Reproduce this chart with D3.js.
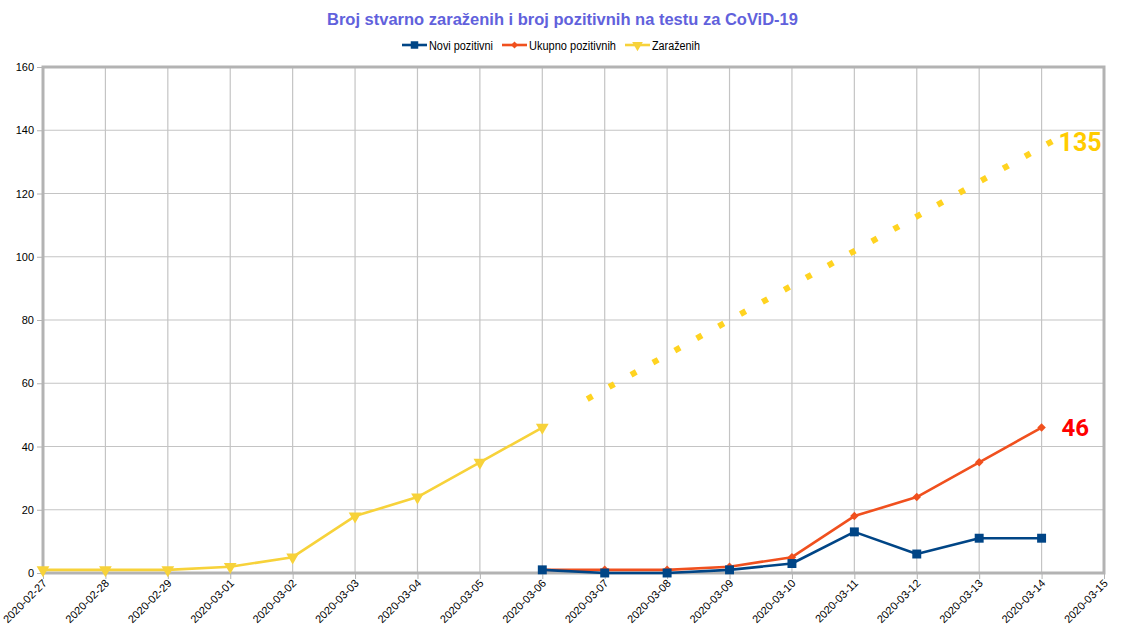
<!DOCTYPE html>
<html>
<head>
<meta charset="utf-8">
<script src="https://cdn.jsdelivr.net/npm/d3@7"></script>
<style>
  body { margin: 0; background: #fff; }
  svg { display: block; font-family: "Liberation Sans", Arial, sans-serif; }
</style>
</head>
<body>
<div id="chart"></div>
<script>
const dates = ["2020-02-27", "2020-02-28", "2020-02-29", "2020-03-01", "2020-03-02", "2020-03-03",
  "2020-03-04", "2020-03-05", "2020-03-06", "2020-03-07", "2020-03-08", "2020-03-09",
  "2020-03-10", "2020-03-11", "2020-03-12", "2020-03-13", "2020-03-14", "2020-03-15"]

// values indexed by position in dates, null = no point
const noviPozitivni = [null, null, null, null, null, null, null, null, 1, 0, 0, 1, 3, 13, 6, 11, 11, null]
const ukupnoPozitivnih = [null, null, null, null, null, null, null, null, 1, 1, 1, 2, 5, 18, 24, 35, 46, null]
const zarazenih = [1, 1, 1, 2, 5, 18, 24, 35, 46, null, null, null, null, null, null, null, null, null]

// dotted projection of the infected (date index, value)
const projection = [[8.72, 55], [16.17, 136.5]]

const yTicks = [0, 20, 40, 60, 80, 100, 120, 140, 160]

const width = 1121, height = 637
const margin = { top: 67, right: 17, bottom: 64, left: 43 }

const svg = d3.select("#chart").append("svg")
  .attr("width", width)
  .attr("height", height)

const x = d3.scaleLinear().domain([0, dates.length - 1]).range([margin.left, width - margin.right])
const y = d3.scaleLinear().domain([0, 160]).range([height - margin.bottom, margin.top])

// Gridlines
svg.append("g")
  .selectAll("line.h")
  .data(yTicks)
  .join("line")
  .attr("x1", margin.left).attr("x2", width - margin.right)
  .attr("y1", d => y(d)).attr("y2", d => y(d))
  .attr("stroke", "#c4c4c4").attr("stroke-width", 1.2)

svg.append("g")
  .selectAll("line.v")
  .data(d3.range(dates.length))
  .join("line")
  .attr("x1", d => x(d)).attr("x2", d => x(d))
  .attr("y1", margin.top).attr("y2", height - margin.bottom)
  .attr("stroke", "#c4c4c4").attr("stroke-width", 1.2)

// Frame
svg.append("rect")
  .attr("x", margin.left).attr("y", margin.top)
  .attr("width", width - margin.left - margin.right)
  .attr("height", height - margin.top - margin.bottom)
  .attr("fill", "none")
  .attr("stroke", "#b3b3b3")
  .attr("stroke-width", 3)

// Y axis
const yAxis = svg.append("g")
  .attr("transform", `translate(${margin.left - 1},0)`)
  .call(d3.axisLeft(y).tickValues(yTicks).tickSize(5).tickPadding(3))
yAxis.select(".domain").remove()
yAxis.selectAll("line").attr("stroke", "#b3b3b3")
yAxis.selectAll("text").attr("font-size", 11).attr("fill", "#000")
  .attr("font-family", "Liberation Sans, Arial, sans-serif")

// X axis
const xAxis = svg.append("g")
  .attr("transform", `translate(0,${height - margin.bottom + 1})`)
  .call(d3.axisBottom(x).tickValues(d3.range(dates.length)).tickFormat(i => dates[i]).tickSize(5))
xAxis.select(".domain").remove()
xAxis.selectAll("line").attr("stroke", "#b3b3b3")
xAxis.selectAll("text")
  .attr("font-size", 11).attr("fill", "#000")
  .attr("font-family", "Liberation Sans, Arial, sans-serif")
  .attr("text-anchor", "end")
  .attr("dy", null).attr("y", 0)
  .attr("transform", "translate(4,10) rotate(-45)")

// Series
const series = [
  { name: "Novi pozitivni", values: noviPozitivni, color: "#004586", symbol: d3.symbolSquare, size: 80, rot: 0, textLen: 64 },
  { name: "Ukupno pozitivnih", values: ukupnoPozitivnih, color: "#f0501e", symbol: d3.symbolSquare, size: 36, rot: 45, textLen: 87 },
  { name: "Zaraženih", values: zarazenih, color: "#f7d23a", symbol: d3.symbolTriangle, size: 70, rot: 180, textLen: 48 }
]

const line = d3.line()
  .defined(d => d != null)
  .x((d, i) => x(i))
  .y(d => y(d))

// draw yellow first, then orange, then blue
for (const s of [series[2], series[1], series[0]]) {
  svg.append("path")
    .datum(s.values)
    .attr("fill", "none")
    .attr("stroke", s.color)
    .attr("stroke-width", 2.6)
    .attr("stroke-linejoin", "round")
    .attr("d", line)

  svg.append("g")
    .selectAll("path")
    .data(s.values.map((v, i) => ({ v, i })).filter(d => d.v != null))
    .join("path")
    .attr("d", d3.symbol(s.symbol, s.size))
    .attr("fill", s.color)
    .attr("transform", d => `translate(${x(d.i)},${y(d.v)}) rotate(${s.rot})`)
}

// Dotted projection: 22 square dots, evenly spread so the last lands at the end
const proj = svg.append("path")
  .datum(projection)
  .attr("fill", "none")
  .attr("stroke", "#ffd320")
  .attr("stroke-width", 6)
  .attr("stroke-linecap", "butt")
  .attr("d", d3.line().x(d => x(d[0])).y(d => y(d[1])))
const projLen = proj.node().getTotalLength()
const nDots = 22
proj.attr("stroke-dasharray", `6,${(projLen - nDots * 6) / (nDots - 1)}`)

// Value labels
svg.append("text")
  .attr("x", x(16) + 17)
  .attr("y", y(135) + 5)
  .attr("font-size", 25).attr("font-weight", "bold")
  .attr("fill", "#ffcc00")
  .attr("font-family", "Roboto, Liberation Sans, sans-serif")
  .text("135")

svg.append("text")
  .attr("x", x(16) + 20)
  .attr("y", y(46) + 8)
  .attr("font-size", 24).attr("font-weight", "bold")
  .attr("fill", "#ff0000")
  .attr("font-family", "Roboto, Liberation Sans, sans-serif")
  .text("46")

// Title
svg.append("text")
  .attr("x", width / 2 + 2)
  .attr("y", 25)
  .attr("text-anchor", "middle")
  .attr("font-size", 16.5).attr("font-weight", "bold")
  .attr("fill", "#6161dc")
  .text("Broj stvarno zaraženih i broj pozitivnih na testu za CoViD-19")

// Legend
const legendX = [402, 502, 625]
const legend = svg.append("g")
series.forEach((s, k) => {
  const g = legend.append("g").attr("transform", `translate(${legendX[k]},45)`)
  g.append("line").attr("x1", 0).attr("x2", 25).attr("stroke", s.color).attr("stroke-width", 2.6)
  g.append("path")
    .attr("d", d3.symbol(s.symbol, s.size * 0.7))
    .attr("fill", s.color)
    .attr("transform", `translate(12.5,0) rotate(${s.rot})`)
  g.append("text").attr("x", 27).attr("y", 4.5)
    .attr("font-size", 12).attr("fill", "#000")
    .attr("textLength", s.textLen)
    .attr("lengthAdjust", "spacingAndGlyphs")
    .text(s.name)
})
</script>
</body>
</html>
